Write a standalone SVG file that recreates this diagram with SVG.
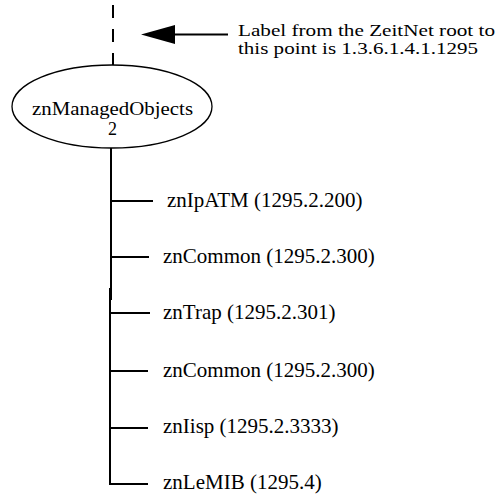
<svg xmlns="http://www.w3.org/2000/svg" width="498" height="495" viewBox="0 0 498 495">
<style>
text{font-family:"Liberation Serif","Times New Roman",serif;font-size:21px;fill:#000}
.sm{font-size:17px}
.md{font-size:18px}
.ln{stroke:#000;stroke-width:2;fill:none}
</style>
<rect width="498" height="495" fill="#fff"/>
<g id="connectors">
<line class="ln" x1="113" y1="5" x2="113" y2="65" stroke-dasharray="13 11"/>
<line class="ln" x1="175" y1="34.5" x2="228" y2="34.5"/>
<polygon points="141,34.5 175,25 175,44" fill="#000"/>
<line class="ln" x1="111" y1="148" x2="111" y2="300"/>
<line class="ln" x1="110" y1="288" x2="110" y2="485"/>
<line class="ln" x1="111" y1="201" x2="153" y2="201"/>
<line class="ln" x1="111" y1="257" x2="149" y2="257"/>
<line class="ln" x1="110" y1="313" x2="150" y2="313"/>
<line class="ln" x1="110" y1="371" x2="148" y2="371"/>
<line class="ln" x1="110" y1="428" x2="148" y2="428"/>
<line class="ln" x1="109" y1="484" x2="148" y2="484"/>
</g>
<g id="note">
<text class="sm" x="238" y="35.5" textLength="257" lengthAdjust="spacingAndGlyphs">Label from the ZeitNet root to</text>
<text class="sm" x="238" y="54" textLength="240" lengthAdjust="spacingAndGlyphs">this point is 1.3.6.1.4.1.1295</text>
</g>
<g id="znManagedObjects">
<ellipse cx="112" cy="106.5" rx="100" ry="41.5" fill="#fff" stroke="#000" stroke-width="1.3"/>
<text class="md" x="32" y="114.5" textLength="161" lengthAdjust="spacingAndGlyphs">znManagedObjects</text>
<text class="md" x="112.5" y="134.5" text-anchor="middle">2</text>
</g>
<g id="znIpATM"><text x="167" y="207">znIpATM (1295.2.200)</text></g>
<g id="znCommon1"><text x="163" y="263">znCommon (1295.2.300)</text></g>
<g id="znTrap"><text x="163" y="319">znTrap (1295.2.301)</text></g>
<g id="znCommon2"><text x="163" y="377">znCommon (1295.2.300)</text></g>
<g id="znIisp"><text x="163" y="433">znIisp (1295.2.3333)</text></g>
<g id="znLeMIB"><text x="163" y="489">znLeMIB (1295.4)</text></g>
</svg>
